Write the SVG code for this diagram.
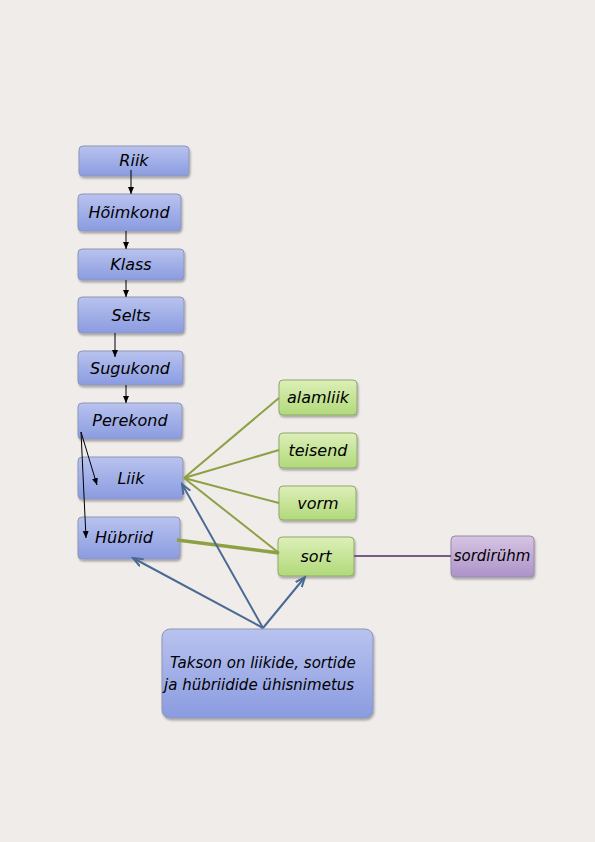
<svg xmlns="http://www.w3.org/2000/svg" width="595" height="842" viewBox="0 0 595 842">
<defs>
<linearGradient id="gb" x1="0" y1="0" x2="0" y2="1"><stop offset="0" stop-color="#b9c3ef"/><stop offset="1" stop-color="#8a9be0"/></linearGradient>
<linearGradient id="gg" x1="0" y1="0" x2="0" y2="1"><stop offset="0" stop-color="#ddefb8"/><stop offset="1" stop-color="#b1d97a"/></linearGradient>
<linearGradient id="gp" x1="0" y1="0" x2="0" y2="1"><stop offset="0" stop-color="#d6c5e3"/><stop offset="1" stop-color="#ad92c8"/></linearGradient>
<marker id="ak" markerWidth="8" markerHeight="8" refX="7" refY="4" orient="auto" markerUnits="userSpaceOnUse"><path d="M0,1 L7,4 L0,7 Z" fill="#000"/></marker>
<marker id="ab" markerWidth="12" markerHeight="10" refX="10" refY="5" orient="auto" markerUnits="userSpaceOnUse"><path d="M0,1 L10,5 L0,9" fill="none" stroke="#4a6a94" stroke-width="2"/></marker>
<filter id="sh" x="-10%" y="-10%" width="130%" height="140%"><feDropShadow dx="1" dy="2" stdDeviation="1.2" flood-color="#000" flood-opacity="0.3"/></filter>
</defs>
<style>
.b{fill:url(#gb);stroke:#8e96b4;stroke-width:1;filter:url(#sh)}
.g{fill:url(#gg);stroke:#8fa86a;stroke-width:1;filter:url(#sh)}
.p{fill:url(#gp);stroke:#9a8aa8;stroke-width:1;filter:url(#sh)}
text{font-family:"DejaVu Sans","Liberation Sans",sans-serif;font-style:italic;font-size:16px;fill:#000;text-anchor:middle}
text.s{font-size:15px}
text.t{font-size:15px;text-anchor:start}
.k{stroke:#000;stroke-width:1;fill:none;marker-end:url(#ak)}
.gl{stroke:#8da043;stroke-width:2;fill:none}
.bl{stroke:#4a6a94;stroke-width:2;fill:none;marker-end:url(#ab)}
</style>
<rect width="595" height="842" fill="#efecea"/>
<g id="riik"><rect class="b" x="79" y="146" width="110" height="30" rx="4"/><text x="134" y="166">Riik</text></g>
<g id="hoimkond"><rect class="b" x="78" y="194" width="103" height="37" rx="4"/><text x="129" y="218">Hõimkond</text></g>
<g id="klass"><rect class="b" x="78" y="249" width="106" height="31" rx="4"/><text x="131" y="270">Klass</text></g>
<g id="selts"><rect class="b" x="78" y="297" width="106" height="36" rx="4"/><text x="131" y="321">Selts</text></g>
<g id="sugukond"><rect class="b" x="78" y="351" width="105" height="34" rx="4"/><text x="130" y="374">Sugukond</text></g>
<g id="perekond"><rect class="b" x="78" y="403" width="104" height="36" rx="4"/><text x="130" y="426">Perekond</text></g>
<g id="liik"><rect class="b" x="78" y="457" width="105" height="42" rx="4"/><text x="131" y="484">Liik</text></g>
<g id="hubriid"><rect class="b" x="78" y="517" width="102" height="42" rx="4"/><text x="124" y="543">Hübriid</text></g>
<g id="alamliik"><rect class="g" x="279" y="380" width="78" height="35" rx="4"/><text x="318" y="403">alamliik</text></g>
<g id="teisend"><rect class="g" x="279" y="433" width="78" height="35" rx="4"/><text x="318" y="456">teisend</text></g>
<g id="vorm"><rect class="g" x="279" y="486" width="77" height="34" rx="4"/><text x="318" y="509">vorm</text></g>
<g id="sort"><rect class="g" x="278" y="537" width="76" height="39" rx="4"/><text x="316" y="562">sort</text></g>
<g id="sordiruhm"><rect class="p" x="451" y="536" width="83" height="41" rx="4"/><text class="s" x="492" y="561">sordirühm</text></g>
<g id="takson"><rect class="b" x="162" y="629" width="211" height="89" rx="8"/><text class="t" x="170" y="668">Takson on liikide, sortide</text><text class="t" x="164" y="690">ja hübriidide ühisnimetus</text></g>
<g id="connectors">
<line class="k" x1="131" y1="170" x2="131" y2="194"/>
<line class="k" x1="126" y1="231" x2="126" y2="249"/>
<line class="k" x1="126" y1="280" x2="126" y2="297"/>
<line class="k" x1="115" y1="333" x2="115" y2="357"/>
<line class="k" x1="126" y1="385" x2="126" y2="403"/>
<line class="k" x1="81" y1="432" x2="97" y2="485"/>
<line class="k" x1="81" y1="432" x2="86" y2="538"/>
<line class="gl" x1="184" y1="478" x2="279" y2="398"/>
<line class="gl" x1="184" y1="478" x2="279" y2="450"/>
<line class="gl" x1="184" y1="478" x2="279" y2="503"/>
<line class="gl" x1="184" y1="478" x2="279" y2="553"/>
<line class="gl" x1="177" y1="540" x2="279" y2="553" style="stroke-width:3.5"/>
<line x1="354" y1="556" x2="451" y2="556" stroke="#7a5a86" stroke-width="2"/>
<line class="bl" x1="263" y1="628" x2="182" y2="484"/>
<line class="bl" x1="263" y1="628" x2="133" y2="558"/>
<line class="bl" x1="263" y1="628" x2="305" y2="577"/>
</g>
</svg>
